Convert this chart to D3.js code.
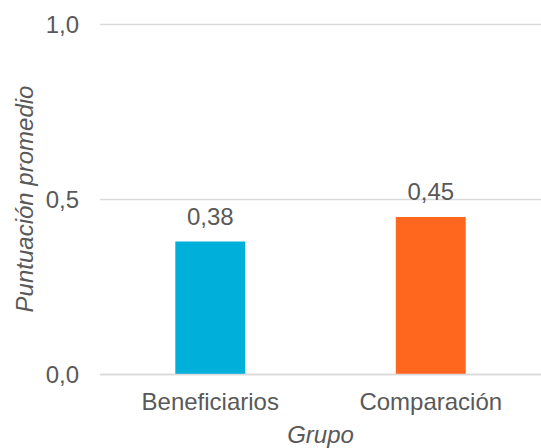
<!DOCTYPE html>
<html>
<head>
<meta charset="utf-8">
<script src="https://cdn.jsdelivr.net/npm/d3@7"></script>
<style>
  body { margin: 0; background: #fff; }
  svg { display: block; }
  text { font-family: "Liberation Sans", Arial, sans-serif; fill: #595959; }
</style>
</head>
<body>
<svg id="chart" width="541" height="448"></svg>
<script>
const categories = ["Beneficiarios", "Comparación"];
const values = [0.38, 0.45];
const colors = ["#00B0DA", "#FF671F"];
const yTicks = [0, 0.5, 1.0];
const xTitle = "Grupo";
const yTitle = "Puntuación promedio";

const svg = d3.select("#chart");
const plotLeft = 100, plotRight = 541, plotTop = 24.5, plotBottom = 374.5;
const fmt = d => d3.format(".1f")(d).replace(".", ",");
const fmt2 = d => d3.format(".2f")(d).replace(".", ",");

const x = d3.scaleBand().domain(categories).range([plotLeft, plotRight])
  .paddingInner(0.683).paddingOuter(0.3415);
const y = d3.scaleLinear().domain([0, 1]).range([plotBottom, plotTop]);

// gridlines
svg.append("g").selectAll("line").data(yTicks).join("line")
  .attr("x1", plotLeft).attr("x2", plotRight)
  .attr("y1", d => y(d)).attr("y2", d => y(d))
  .attr("stroke", "#D9D9D9").attr("stroke-width", 1.5);

// y tick labels
svg.append("g").selectAll("text").data(yTicks).join("text")
  .attr("x", 79).attr("y", d => y(d) + 8)
  .attr("text-anchor", "end").attr("font-size", 24)
  .text(d => fmt(d));

// bars
svg.append("g").selectAll("rect").data(values).join("rect")
  .attr("x", (d, i) => x(categories[i]))
  .attr("width", x.bandwidth())
  .attr("y", d => y(d))
  .attr("height", d => y(0) - y(d))
  .attr("fill", (d, i) => colors[i]);

// redraw baseline over bars
svg.append("line").attr("x1", plotLeft).attr("x2", plotRight)
  .attr("y1", y(0)).attr("y2", y(0))
  .attr("stroke", "#D9D9D9").attr("stroke-width", 1.5);

// data labels
svg.append("g").selectAll("text").data(values).join("text")
  .attr("x", (d, i) => x(categories[i]) + x.bandwidth() / 2)
  .attr("y", d => y(d) - 17)
  .attr("text-anchor", "middle").attr("font-size", 24)
  .text(d => fmt2(d));

// category labels
svg.append("g").selectAll("text").data(categories).join("text")
  .attr("x", d => x(d) + x.bandwidth() / 2)
  .attr("y", 410)
  .attr("text-anchor", "middle").attr("font-size", 24)
  .text(d => d);

// axis titles
svg.append("text").attr("x", (plotLeft + plotRight) / 2).attr("y", 443)
  .attr("text-anchor", "middle").attr("font-size", 24).attr("font-style", "italic")
  .text(xTitle);
svg.append("text")
  .attr("transform", "translate(33,199) rotate(-90)")
  .attr("text-anchor", "middle").attr("font-size", 24).attr("font-style", "italic")
  .text(yTitle);
</script>
</body>
</html>
